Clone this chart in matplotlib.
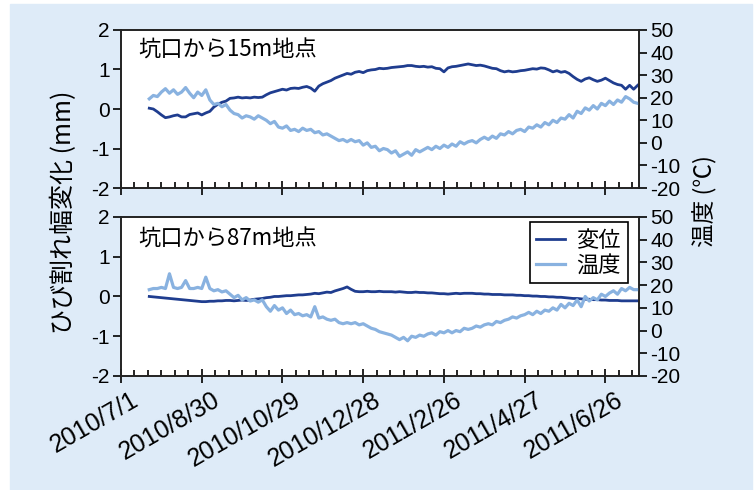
import numpy as np
import pandas as pd
import matplotlib
matplotlib.use('Agg')
import matplotlib.pyplot as plt
import matplotlib.dates as mdates
from matplotlib.patches import Rectangle
from matplotlib.transforms import ScaledTranslation

plt.rcParams['font.family'] = ['Noto Sans CJK JP', 'DejaVu Sans']
plt.rcParams['axes.unicode_minus'] = False

# 観測日 (3日ごと)
dates = pd.date_range('2010-07-22', periods=122, freq='3D')

# 坑口から15m地点
disp15 = [0.02, 0.00, -0.07, -0.15, -0.22, -0.20, -0.17, -0.15, -0.20, -0.20,
          -0.14, -0.12, -0.10, -0.15, -0.10, -0.06, 0.05, 0.12, 0.17, 0.20,
          0.27, 0.28, 0.30, 0.28, 0.29, 0.28, 0.30, 0.29, 0.30, 0.36,
          0.41, 0.44, 0.47, 0.50, 0.48, 0.52, 0.53, 0.52, 0.55, 0.57,
          0.53, 0.45, 0.58, 0.64, 0.68, 0.72, 0.78, 0.82, 0.86, 0.90,
          0.88, 0.93, 0.95, 0.92, 0.97, 0.99, 1.00, 1.03, 1.02, 1.03,
          1.05, 1.06, 1.07, 1.08, 1.10, 1.10, 1.08, 1.07, 1.08, 1.06,
          1.07, 1.03, 1.02, 0.94, 1.04, 1.07, 1.08, 1.10, 1.12, 1.14,
          1.12, 1.10, 1.11, 1.09, 1.06, 1.03, 1.02, 0.97, 0.94, 0.96,
          0.94, 0.95, 0.97, 0.98, 1.00, 1.02, 1.01, 1.04, 1.03, 0.99,
          0.94, 0.97, 0.93, 0.95, 0.90, 0.82, 0.75, 0.70, 0.76, 0.79,
          0.74, 0.70, 0.73, 0.78, 0.72, 0.66, 0.62, 0.60, 0.50, 0.60,
          0.50, 0.60]
temp15 = [19.5, 21.0, 20.5, 22.5, 24.0, 22.0, 23.5, 21.5, 22.5, 24.5,
          22.0, 20.0, 22.5, 21.0, 23.5, 19.0, 17.0, 17.5, 16.0, 17.0,
          14.5, 13.0, 12.5, 11.0, 12.0, 11.5, 10.5, 12.0, 11.0, 10.0,
          8.5, 9.5, 7.0, 6.5, 7.5, 5.5, 6.0, 5.0, 6.5, 5.5,
          6.0, 4.5, 5.0, 3.5, 4.0, 3.0, 2.0, 1.0, 1.5, 0.5,
          1.5, 0.5, 1.0, -1.0, 0.0, -2.0, -1.5, -3.5, -2.5, -3.0,
          -4.5, -3.5, -6.0, -5.0, -4.0, -5.5, -3.0, -4.0, -3.0, -2.0,
          -3.0, -1.5, -2.5, -1.0, -2.0, -0.5, -1.5, 0.5, -0.5, 0.5,
          1.0, 0.0, 1.5, 2.5, 1.5, 3.0, 2.0, 4.0, 3.5, 5.0,
          4.0, 5.5, 6.0, 5.0, 7.0, 6.5, 8.0, 7.0, 9.0, 8.0,
          10.0, 9.0, 11.0, 10.5, 12.5, 11.0, 14.0, 13.0, 15.5, 14.5,
          16.5, 15.0, 17.5, 16.5, 18.5, 17.0, 19.0, 18.0, 20.5, 19.5,
          18.0, 17.5]

# 坑口から87m地点
disp87 = [0.00, -0.01, -0.02, -0.03, -0.04, -0.05, -0.06, -0.07, -0.08, -0.09,
          -0.10, -0.11, -0.12, -0.13, -0.13, -0.12, -0.12, -0.11, -0.11, -0.10,
          -0.10, -0.11, -0.10, -0.09, -0.10, -0.09, -0.07, -0.06, -0.05, -0.03,
          -0.02, 0.00, 0.00, 0.01, 0.02, 0.02, 0.03, 0.04, 0.04, 0.05,
          0.06, 0.08, 0.07, 0.09, 0.11, 0.10, 0.14, 0.17, 0.20, 0.24,
          0.18, 0.13, 0.12, 0.12, 0.13, 0.12, 0.12, 0.13, 0.12, 0.12,
          0.12, 0.11, 0.12, 0.11, 0.10, 0.10, 0.11, 0.10, 0.10, 0.09,
          0.09, 0.08, 0.07, 0.07, 0.06, 0.07, 0.08, 0.07, 0.08, 0.08,
          0.08, 0.07, 0.07, 0.06, 0.06, 0.05, 0.05, 0.05, 0.04, 0.04,
          0.04, 0.03, 0.03, 0.02, 0.02, 0.01, 0.01, 0.00, 0.00, -0.01,
          -0.01, -0.02, -0.02, -0.03, -0.04, -0.05, -0.05, -0.06, -0.07, -0.07,
          -0.08, -0.08, -0.09, -0.09, -0.10, -0.10, -0.10, -0.11, -0.11, -0.11,
          -0.11, -0.11]
temp87 = [18.0, 18.5, 18.5, 19.0, 18.5, 25.0, 19.0, 18.5, 19.0, 22.0,
          18.5, 18.5, 19.0, 18.5, 23.5, 18.5, 17.5, 18.0, 17.0, 17.5,
          16.0, 14.5, 15.5, 13.5, 14.5, 13.0, 13.5, 12.5, 13.5, 10.5,
          8.5, 11.0, 9.0, 10.0, 7.5, 9.0, 7.0, 7.5, 6.5, 7.0,
          6.0, 10.5, 5.5, 6.0, 5.0, 4.5, 5.0, 3.5, 3.0, 3.5,
          3.0, 3.5, 2.5, 3.0, 2.0, 1.0, 0.5, -0.5, -1.0, -1.5,
          -2.0, -3.0, -4.0, -3.0, -4.5, -2.5, -3.0, -2.0, -2.5, -1.5,
          -1.0, -2.0, -0.5, -1.0, 0.0, -1.0, 0.0, -0.5, 1.0, 0.5,
          1.0, 2.0, 1.5, 2.5, 3.0, 2.5, 4.0, 3.5, 4.5, 5.0,
          6.0, 5.5, 6.5, 7.0, 8.0, 7.0, 8.5, 7.5, 9.0, 8.5,
          10.0, 9.0, 11.5, 10.0, 12.0, 11.0, 13.5, 10.5, 15.0, 13.0,
          14.5, 13.5, 16.0, 15.0, 16.5, 17.5, 16.0, 18.5, 17.5, 19.0,
          18.0, 18.0]

tick_dates = ['2010-07-01', '2010-08-30', '2010-10-29', '2010-12-28',
              '2011-02-26', '2011-04-27', '2011-06-26']
tick_labels = ['2010/7/1', '2010/8/30', '2010/10/29', '2010/12/28',
               '2011/2/26', '2011/4/27', '2011/6/26']
panel_titles = ['坑口から15m地点', '坑口から87m地点']

c_disp = '#1f3d8f'
c_temp = '#89b2e0'
bg = '#deebf8'
num_font = ['Liberation Sans', 'DejaVu Sans']

fig = plt.figure(figsize=(7.55, 4.90), dpi=100)
fig.add_artist(Rectangle((10 / 755, 0), 742 / 755, 486 / 490,
                         transform=fig.transFigure, color=bg, zorder=-10))

ax1 = fig.add_axes([0.1603, 0.6163, 0.6861, 0.3225])
ax2 = fig.add_axes([0.1603, 0.2327, 0.6861, 0.3245])

xmin = pd.Timestamp('2010-07-01')
xmax = pd.Timestamp('2011-07-21')
minor = pd.date_range(xmin, xmax, freq='10D')

panels = [(ax1, disp15, temp15), (ax2, disp87, temp87)]
twins = []
for k, (ax, d, t) in enumerate(panels):
    axr = ax.twinx()
    twins.append(axr)
    ax.plot(dates, d, color=c_disp, lw=2.0, label='変位')
    axr.plot(dates, t, color=c_temp, lw=2.3, label='温度')

    ax.set_xlim(xmin, xmax)
    ax.set_ylim(-2, 2)
    ax.set_yticks([-2, -1, 0, 1, 2])
    axr.set_ylim(-20, 50)
    axr.set_yticks(range(-20, 51, 10))

    ax.set_xticks(pd.to_datetime(tick_dates))
    ax.set_xticks(minor, minor=True)
    ax.tick_params(axis='x', which='major', direction='inout', length=10, width=1.2)
    ax.tick_params(axis='x', which='minor', direction='in', length=4, width=1.2)
    ax.tick_params(axis='y', direction='out', length=6, width=1.2, pad=2)
    axr.tick_params(axis='y', direction='out', length=6, width=1.2, pad=2)

    for lab in ax.get_yticklabels() + axr.get_yticklabels():
        lab.set_fontfamily(num_font)
        lab.set_fontsize(15)
    for a in (ax, axr):
        for s in a.spines.values():
            s.set_linewidth(1.2)
            s.set_color('#222222')

    ax.text(0.033, 0.87 - 0.01 * k, panel_titles[k], transform=ax.transAxes,
            fontsize=16, va='center', ha='left')

ax1.set_xticklabels([])
ax2.set_xticklabels(tick_labels)
offset = ScaledTranslation(10 / 100, 0, fig.dpi_scale_trans)
for lab in ax2.get_xticklabels():
    lab.set_fontfamily(num_font)
    lab.set_fontsize(18)
    lab.set_rotation(30)
    lab.set_ha('right')
    lab.set_rotation_mode('anchor')
    lab.set_transform(lab.get_transform() + offset)

# 凡例
h1, l1 = ax2.get_legend_handles_labels()
h2, l2 = twins[1].get_legend_handles_labels()
leg = twins[1].legend(h1 + h2, l1 + l2, loc='upper right',
                      bbox_to_anchor=(0.978, 0.969), borderaxespad=0,
                      fontsize=16, fancybox=False, framealpha=1,
                      edgecolor='black', handlelength=1.3, handletextpad=0.5,
                      borderpad=0.3, labelspacing=0.1)
leg.get_frame().set_linewidth(1.2)

fig.text(0.085, 0.567, 'ひび割れ幅変化 (mm)', rotation=90, fontsize=18,
         ha='center', va='center')
fig.text(0.934, 0.59, '温度 (℃)', rotation=90, fontsize=17,
         ha='center', va='center')

fig.savefig('out.png', dpi=100, facecolor='white')
